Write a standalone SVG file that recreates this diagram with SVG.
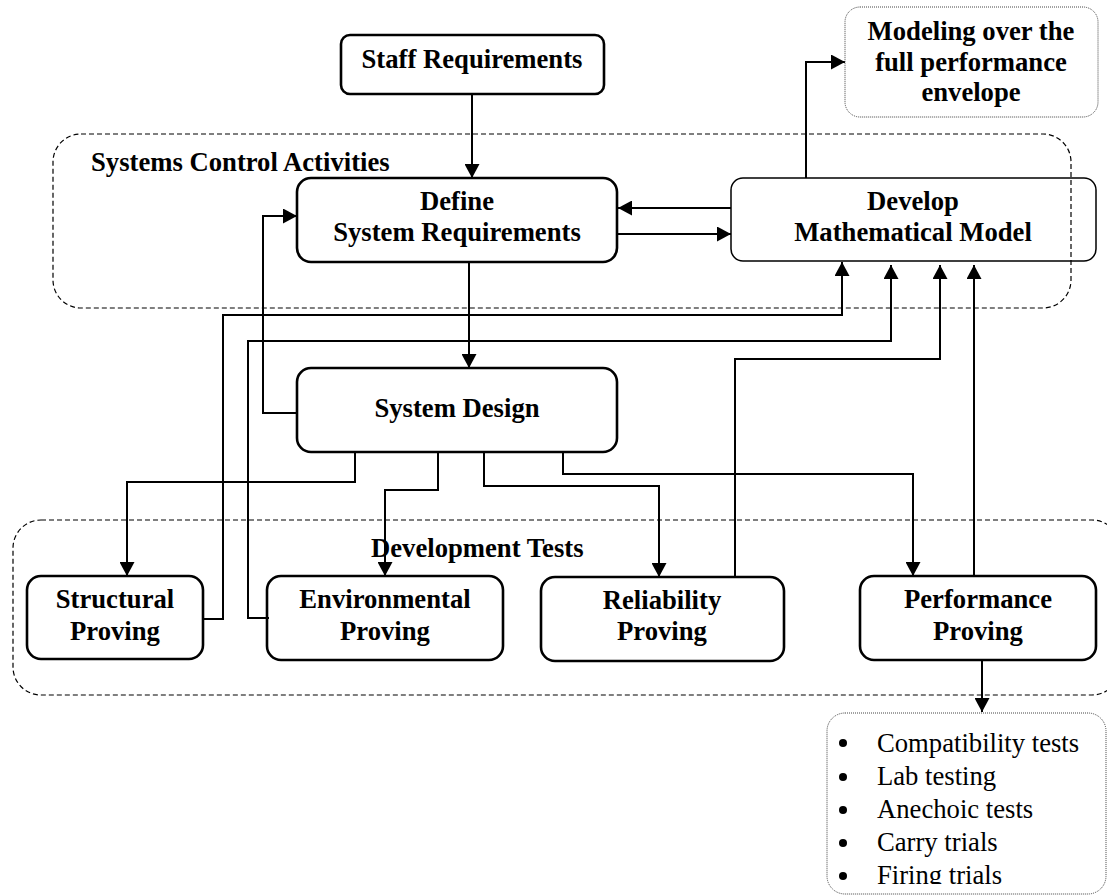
<svg xmlns="http://www.w3.org/2000/svg" width="1107" height="896" viewBox="0 0 1107 896">
  <defs>
    <style>
      .lbl { font-family: "Liberation Serif", "Times New Roman", serif; font-weight: bold; font-size: 26.67px; fill: #000; text-anchor: middle; }
      .grp { font-family: "Liberation Serif", "Times New Roman", serif; font-weight: bold; font-size: 26.67px; fill: #000; }
      .item { font-family: "Liberation Serif", "Times New Roman", serif; font-size: 26.67px; fill: #000; }
      .box { fill: none; stroke: #000; stroke-width: 2.6; }
      .thin { fill: none; stroke: #000; stroke-width: 1.5; }
      .area { fill: none; stroke: #000; stroke-width: 1.2; stroke-dasharray: 5 3; }
      .dot { fill: none; stroke: #444; stroke-width: 1; stroke-dasharray: 1 1; }
      .wire { fill: none; stroke: #000; stroke-width: 2; }
      .arr { marker-end: url(#head); }
    </style>
    <marker id="head" markerUnits="userSpaceOnUse" markerWidth="14" markerHeight="15" refX="14" refY="7.5" orient="auto">
      <path d="M0,0 L14,7.5 L0,15 z" fill="#000"/>
    </marker>
    <clipPath id="listClip">
      <rect x="826" y="713" width="281" height="171"/>
    </clipPath>
  </defs>

  <rect width="1107" height="896" fill="#fff"/>

  <!-- grouping areas -->
  <g id="systems-control-activities">
    <rect class="area" x="53" y="134" width="1018" height="174" rx="28"/>
    <text class="grp" x="91" y="171">Systems Control Activities</text>
  </g>
  <g id="development-tests">
    <rect class="area" x="13" y="520" width="1107" height="175" rx="28"/>
    <text class="grp" x="371" y="557">Development Tests</text>
  </g>

  <!-- connectors -->
  <g id="connectors">
    <path class="wire arr" d="M472,94 V178"/>
    <path class="wire arr" d="M806,178 V62 H845"/>
    <path class="wire arr" d="M731,208 H618"/>
    <path class="wire arr" d="M617,234 H731"/>
    <path class="wire arr" d="M469,262 V368"/>
    <path class="wire arr" d="M297,413 H263 V216 H297"/>
    <path class="wire arr" d="M203,619 H223 V315 H842 V262"/>
    <path class="wire arr" d="M269,618 H248 V341 H891 V265"/>
    <path class="wire arr" d="M735,577 V359 H940 V265"/>
    <path class="wire arr" d="M974,576 V265"/>
    <path class="wire arr" d="M355,452 V482 H127 V576"/>
    <path class="wire arr" d="M438,452 V490 H385 V576"/>
    <path class="wire arr" d="M484,452 V486 H659 V577"/>
    <path class="wire arr" d="M563,452 V474 H913 V576"/>
    <path class="wire arr" d="M982,660 V712"/>
  </g>

  <!-- nodes -->
  <g id="staff-requirements">
    <rect class="box" x="341" y="35" width="263" height="59" rx="9"/>
    <text class="lbl" x="472" y="68">Staff Requirements</text>
  </g>
  <g id="modeling-envelope">
    <rect class="dot" x="845" y="7" width="253" height="110" rx="15"/>
    <text class="lbl" x="971" y="40">Modeling over the</text>
    <text class="lbl" x="971" y="71">full performance</text>
    <text class="lbl" x="971" y="101">envelope</text>
  </g>
  <g id="define-system-requirements">
    <rect class="box" x="297" y="178" width="320" height="84" rx="14"/>
    <text class="lbl" x="457" y="210">Define</text>
    <text class="lbl" x="457" y="241">System Requirements</text>
  </g>
  <g id="develop-mathematical-model">
    <rect class="thin" x="731" y="178" width="365" height="83" rx="12"/>
    <text class="lbl" x="913" y="210">Develop</text>
    <text class="lbl" x="913" y="241">Mathematical Model</text>
  </g>
  <g id="system-design">
    <rect class="box" x="297" y="368" width="320" height="84" rx="14"/>
    <text class="lbl" x="457" y="417">System Design</text>
  </g>
  <g id="structural-proving">
    <rect class="box" x="27" y="576" width="176" height="83" rx="14"/>
    <text class="lbl" x="115" y="608">Structural</text>
    <text class="lbl" x="115" y="640">Proving</text>
  </g>
  <g id="environmental-proving">
    <rect class="box" x="267" y="576" width="236" height="84" rx="14"/>
    <text class="lbl" x="385" y="608">Environmental</text>
    <text class="lbl" x="385" y="640">Proving</text>
  </g>
  <g id="reliability-proving">
    <rect class="box" x="541" y="577" width="243" height="84" rx="14"/>
    <text class="lbl" x="662" y="609">Reliability</text>
    <text class="lbl" x="662" y="640">Proving</text>
  </g>
  <g id="performance-proving">
    <rect class="box" x="860" y="576" width="236" height="84" rx="14"/>
    <text class="lbl" x="978" y="608">Performance</text>
    <text class="lbl" x="978" y="640">Proving</text>
  </g>
  <g id="performance-tests-list">
    <rect class="dot" x="827" y="713" width="279" height="181" rx="18"/>
    <g clip-path="url(#listClip)">
      <circle cx="843" cy="743" r="4"/>
      <circle cx="843" cy="777" r="4"/>
      <circle cx="843" cy="810" r="4"/>
      <circle cx="843" cy="843" r="4"/>
      <circle cx="843" cy="876" r="4"/>
      <text class="item" x="877" y="752">Compatibility tests</text>
      <text class="item" x="877" y="785">Lab testing</text>
      <text class="item" x="877" y="818">Anechoic tests</text>
      <text class="item" x="877" y="851">Carry trials</text>
      <text class="item" x="877" y="884">Firing trials</text>
    </g>
  </g>
</svg>
